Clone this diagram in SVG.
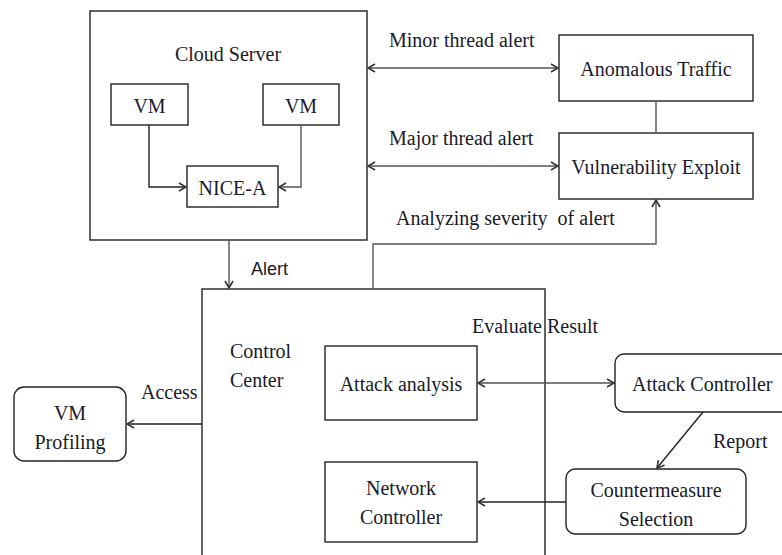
<svg xmlns="http://www.w3.org/2000/svg" width="782" height="555" viewBox="0 0 782 555">
<style>
.box{fill:#fff;stroke:#222;stroke-width:1.4}
.t{font-family:"Liberation Serif","Times New Roman",serif;font-size:20px;fill:#1a1a2a}
.s{font-family:"Liberation Sans",Arial,sans-serif;font-size:18px;fill:#1a1a2a}
.c{fill:none;stroke:#555;stroke-width:1.4}
.cd{fill:none;stroke:#222;stroke-width:1.4}
</style>
<defs>
<marker id="ah" viewBox="0 0 10 10" refX="9" refY="5" markerWidth="10" markerHeight="10" markerUnits="userSpaceOnUse" orient="auto-start-reverse">
<path d="M2,1 L9,5 L2,9" fill="none" stroke="#333" stroke-width="1.6"/>
</marker>
</defs>
<rect width="782" height="555" fill="#fff"/>
<g id="cloud-server">
<rect class="box" x="90" y="11" width="277" height="229"/>
<text class="t" x="228" y="61" text-anchor="middle">Cloud Server</text>
</g>
<g id="vm-left">
<rect class="box" x="111" y="84" width="77" height="41"/>
<text class="t" x="149.5" y="113" text-anchor="middle">VM</text>
</g>
<g id="vm-right">
<rect class="box" x="263" y="84" width="76" height="41"/>
<text class="t" x="301" y="113" text-anchor="middle">VM</text>
</g>
<g id="nice-a">
<rect class="box" x="187" y="166" width="91" height="41"/>
<text class="t" x="232.5" y="195" text-anchor="middle">NICE-A</text>
</g>
<g id="anomalous-traffic">
<rect class="box" x="559" y="35" width="194" height="66"/>
<text class="t" x="656" y="76" text-anchor="middle">Anomalous Traffic</text>
</g>
<g id="vulnerability-exploit">
<rect class="box" x="559" y="133" width="194" height="66"/>
<text class="t" x="656" y="174" text-anchor="middle">Vulnerability Exploit</text>
</g>
<g id="control-center">
<rect class="box" x="202" y="289" width="343" height="290"/>
<text class="t" x="230" y="358">Control</text>
<text class="t" x="230" y="387">Center</text>
</g>
<g id="attack-analysis">
<rect class="box" x="325" y="346" width="152" height="74"/>
<text class="t" x="401" y="391" text-anchor="middle">Attack analysis</text>
</g>
<g id="network-controller">
<rect class="box" x="325" y="462" width="152" height="80"/>
<text class="t" x="401" y="495" text-anchor="middle">Network</text>
<text class="t" x="401" y="524" text-anchor="middle">Controller</text>
</g>
<g id="attack-controller">
<rect class="box" x="615" y="354" width="190" height="58" rx="9"/>
<text class="t" x="632" y="391">Attack Controller</text>
</g>
<g id="countermeasure-selection">
<rect class="box" x="566" y="469" width="180" height="65" rx="9"/>
<text class="t" x="656" y="497" text-anchor="middle">Countermeasure</text>
<text class="t" x="656" y="526" text-anchor="middle">Selection</text>
</g>
<g id="vm-profiling">
<rect class="box" x="14" y="387" width="112" height="74" rx="10"/>
<text class="t" x="70" y="420" text-anchor="middle">VM</text>
<text class="t" x="70" y="449" text-anchor="middle">Profiling</text>
</g>
<g id="connectors">
<path class="cd" d="M149,125 V187 H186" marker-end="url(#ah)"/>
<path class="c" d="M301,125 V187 H279" marker-end="url(#ah)"/>
<path class="c" d="M368,68 H558" marker-start="url(#ah)" marker-end="url(#ah)"/>
<path class="c" d="M368,166 H558" marker-start="url(#ah)" marker-end="url(#ah)"/>
<path class="c" d="M656,101 V133"/>
<path class="c" d="M373,289 V244 H656 V200" marker-end="url(#ah)"/>
<path class="c" d="M229,240 V288" marker-end="url(#ah)"/>
<path class="cd" d="M202,424 H127" marker-end="url(#ah)"/>
<path class="c" d="M478,383 H614" marker-start="url(#ah)" marker-end="url(#ah)"/>
<path class="cd" d="M703,412 L657,468" marker-end="url(#ah)"/>
<path class="cd" d="M566,502 H478" marker-end="url(#ah)"/>
</g>
<g id="labels">
<text class="t" x="389" y="47">Minor thread alert</text>
<text class="t" x="389" y="145">Major thread alert</text>
<text class="t" x="396" y="225" xml:space="preserve">Analyzing severity  of alert</text>
<text class="s" x="251" y="275">Alert</text>
<text class="t" x="472" y="333">Evaluate Result</text>
<text class="t" x="141" y="399">Access</text>
<text class="t" x="713" y="448">Report</text>
</g>
</svg>
